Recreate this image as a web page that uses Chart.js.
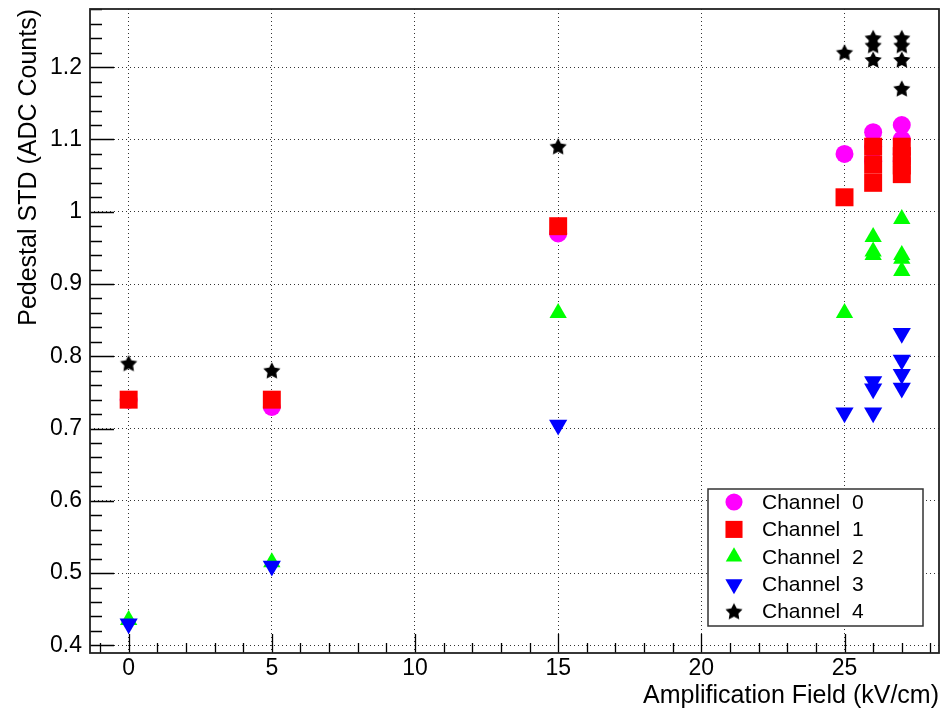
<!DOCTYPE html>
<html>
<head>
<meta charset="utf-8">
<script src="https://cdn.jsdelivr.net/npm/chart.js@4.4.1/dist/chart.umd.min.js"></script>
<style>
  html, body { margin: 0; padding: 0; background: #fff; }
  #wrap { width: 942px; height: 711px; }
</style>
</head>
<body>
<div id="wrap"><canvas id="mainChart" width="942" height="711"></canvas></div>
<script>
// Amplification field of every run (kV/cm), shared by all channels
const fields = [0, 5, 15, 25, 26, 26, 26, 27, 27, 27, 27]

// Pedestal STD (ADC counts) per channel, one value per run
const stdCh0 = [0.74, 0.73, 0.97, 1.08, 1.11, 1.09, 1.07, 1.12, 1.1, 1.08, 1.07]
const stdCh1 = [0.74, 0.74, 0.98, 1.02, 1.09, 1.065, 1.04, 1.09, 1.077, 1.064, 1.052]
const stdCh2 = [0.435, 0.515, 0.86, 0.86, 0.965, 0.945, 0.94, 0.99, 0.94, 0.918, 0.935]
const stdCh3 = [0.43, 0.51, 0.705, 0.722, 0.765, 0.755, 0.722, 0.832, 0.795, 0.775, 0.756]
const stdCh4 = [0.79, 0.78, 1.09, 1.22, 1.24, 1.23, 1.21, 1.24, 1.23, 1.21, 1.17]

const channelLabels = [`Channel  0`, `Channel  1`, `Channel  2`, `Channel  3`, `Channel  4`]
const channelColors = [`#ff00ff`, `#ff0000`, `#00ff00`, `#0000ff`, `#000000`]

const FONT = `'Liberation Sans', Arial, Helvetica, sans-serif`

// filled five-pointed star like ROOT marker 29
const makeStar = () => {
  const c = document.createElement(`canvas`)
  c.width = 20
  c.height = 20
  const g = c.getContext(`2d`)
  g.fillStyle = `#000`
  g.beginPath()
  for (let i = 0; i < 10; i++) {
    const r = i % 2 === 0 ? 9 : 4.6
    const a = -Math.PI / 2 + (i * Math.PI) / 5
    const px = 10 + r * Math.cos(a)
    const py = 10.5 + r * Math.sin(a)
    if (i === 0) g.moveTo(px, py)
    else g.lineTo(px, py)
  }
  g.closePath()
  g.fill()
  return c
}
const star = makeStar()

const markers = [
  { pointStyle: `circle`, radius: 9, rotation: 0 },
  { pointStyle: `rect`, radius: 12.7, rotation: 0 },
  { pointStyle: `triangle`, radius: 10, rotation: 0 },
  { pointStyle: `triangle`, radius: 10.5, rotation: 180 },
  { pointStyle: star, radius: 9, rotation: 0 },
]

const toPoints = (vals) => vals.map((v, i) => ({ x: fields[i], y: v }))
const allStd = [stdCh0, stdCh1, stdCh2, stdCh3, stdCh4]

const datasets = allStd.map((vals, i) => ({
  label: channelLabels[i],
  data: toPoints(vals),
  backgroundColor: channelColors[i],
  borderColor: channelColors[i],
  borderWidth: 0,
  pointStyle: markers[i].pointStyle,
  pointRadius: markers[i].radius,
  rotation: markers[i].rotation,
  order: 4 - i, // later channels drawn on top
}))

// ROOT-style frame with inward major/minor ticks
const frameAndTicks = {
  id: `frameAndTicks`,
  afterDatasetsDraw(chart) {
    const { ctx, chartArea: a, scales } = chart
    const xs = scales.x
    const ys = scales.y
    ctx.save()
    ctx.strokeStyle = `#000`
    ctx.lineWidth = 1.3
    ctx.beginPath()
    for (let k = -1; k <= 28; k++) {
      const px = Math.round(xs.getPixelForValue(k)) + 0.5
      const len = k % 5 === 0 ? 19 : 10
      ctx.moveTo(px, a.bottom)
      ctx.lineTo(px, a.bottom - len)
    }
    for (let k = 20; k <= 64; k++) {
      const py = Math.round(ys.getPixelForValue(k * 0.02)) + 0.5
      const len = k % 5 === 0 ? 24 : 12
      ctx.moveTo(a.left, py)
      ctx.lineTo(a.left + len, py)
    }
    ctx.stroke()
    ctx.lineWidth = 1.8
    ctx.strokeStyle = `#222`
    ctx.strokeRect(a.left, a.top, a.right - a.left, a.bottom - a.top)
    ctx.restore()
  },
}

// legend box in the lower right corner of the frame
const boxLegend = {
  id: `boxLegend`,
  afterDraw(chart) {
    const { ctx, chartArea: a } = chart
    const left = a.right - 231
    const right = a.right - 16
    const top = a.bottom - 164
    const bottom = a.bottom - 27
    ctx.save()
    ctx.fillStyle = `#fff`
    ctx.fillRect(left, top, right - left, bottom - top)
    ctx.lineWidth = 1.5
    ctx.strokeStyle = `#333`
    ctx.strokeRect(left, top, right - left, bottom - top)
    ctx.font = `21px ${FONT}`
    ctx.textBaseline = `middle`
    ctx.textAlign = `left`
    chart.data.datasets.forEach((ds, i) => {
      const cy = top + 13 + i * 27.4
      ctx.fillStyle = ds.backgroundColor
      Chart.helpers.drawPoint(
        ctx,
        { pointStyle: ds.pointStyle, radius: ds.pointRadius * 0.95, rotation: ds.rotation, borderWidth: 0 },
        left + 26,
        cy
      )
      ctx.fillStyle = `#000`
      ctx.fillText(ds.label, left + 54, cy + 1)
    })
    ctx.restore()
  },
}

// keep the frame where ROOT put it: no extra room for edge labels
const noEdgePadding = (s) => {
  s.paddingTop = 0
  s.paddingBottom = 0
  s.paddingLeft = 0
  s.paddingRight = 0
}

new Chart(document.getElementById(`mainChart`), {
  type: `scatter`,
  data: { datasets },
  options: {
    responsive: false,
    animation: false,
    events: [],
    layout: { autoPadding: false, padding: { top: 9, right: 3, left: 0, bottom: 0 } },
    plugins: {
      legend: { display: false },
      tooltip: { enabled: false },
    },
    scales: {
      x: {
        type: `linear`,
        min: -1.35,
        max: 28.3,
        afterFit: (s) => {
          s.height = 58
          noEdgePadding(s)
        },
        grid: { color: `#333`, lineWidth: 1, drawTicks: false },
        border: { display: false, dash: [1, 3] },
        ticks: {
          stepSize: 5,
          includeBounds: false,
          padding: 2,
          color: `#000`,
          font: { family: FONT, size: 23 },
          maxRotation: 0,
        },
        title: {
          display: true,
          text: `Amplification Field (kV/cm)`,
          align: `end`,
          color: `#000`,
          font: { family: FONT, size: 25 },
          padding: { top: 0, bottom: 0 },
        },
      },
      y: {
        type: `linear`,
        min: 0.3895,
        max: 1.2805,
        afterFit: (s) => {
          s.width = 90
          noEdgePadding(s)
        },
        grid: { color: `#333`, lineWidth: 1, drawTicks: false },
        border: { display: false, dash: [1, 3] },
        ticks: {
          stepSize: 0.1,
          includeBounds: false,
          padding: 8,
          color: `#000`,
          font: { family: FONT, size: 23 },
          callback: (v) => Number(v.toFixed(1)).toString(),
        },
        title: {
          display: true,
          text: `Pedestal STD (ADC Counts)`,
          align: `end`,
          color: `#000`,
          font: { family: FONT, size: 25 },
          padding: { top: 14, bottom: 0 },
        },
      },
    },
  },
  plugins: [frameAndTicks, boxLegend],
})
</script>
</body>
</html>
